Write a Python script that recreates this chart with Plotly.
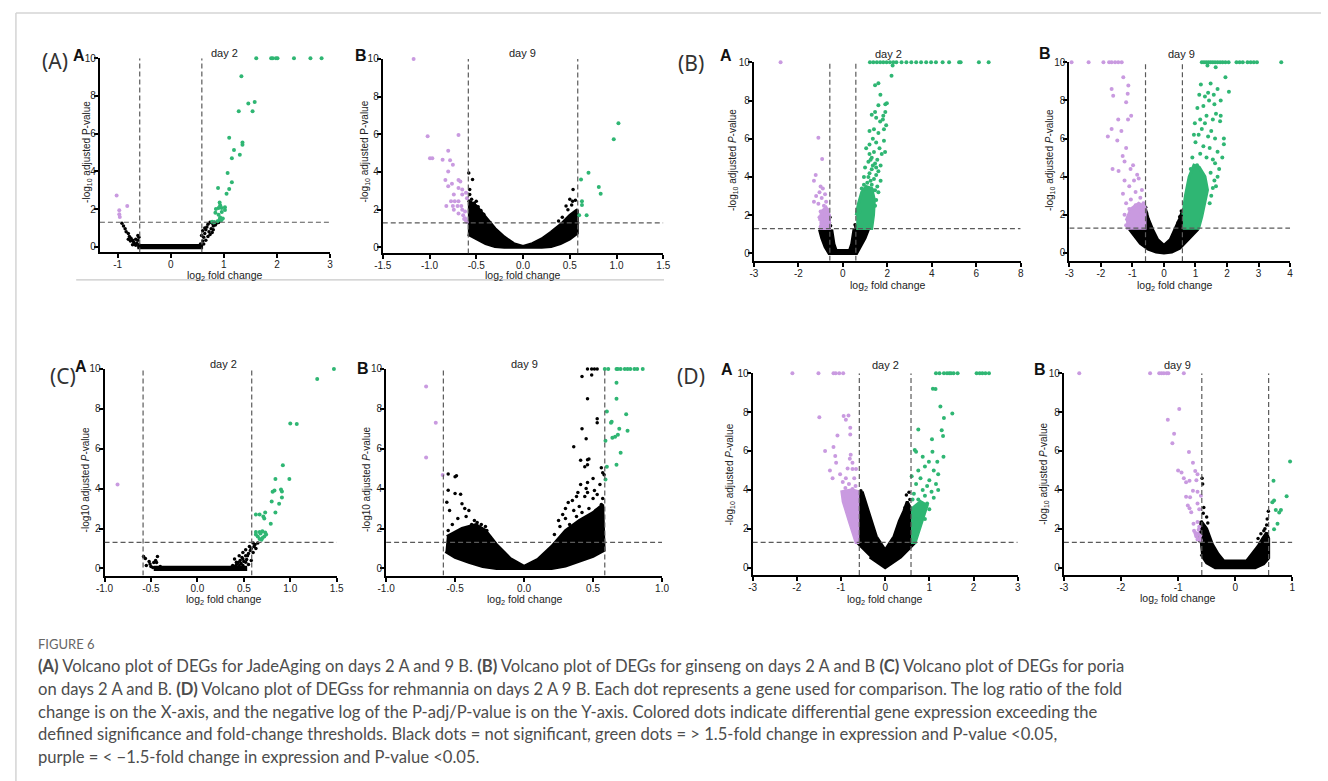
import math
import plotly.graph_objects as go

# ---------------------------------------------------------------- data
# Thresholds used in every volcano plot
FC_CUT = math.log2(1.5)      # |log2 fold change| cut
P_CUT = -math.log10(0.05)    # -log10 adjusted P cut

# ---- (A) JadeAging, day 2
AA_green_x = [1.61, 1.89, 1.92, 1.98, 2.01, 2.32, 2.63, 2.84,
              1.33, 1.58, 1.46, 1.28, 1.54, 1.10, 1.35, 1.35, 1.19, 1.15, 1.30, 1.07, 1.15, 0.89, 1.10, 1.05,
              0.92, 0.93, 0.96, 1.02, 0.90, 0.85, 0.96, 0.84, 1.02, 0.90, 0.93, 0.92, 0.88, 0.82, 0.78, 0.95, 0.98]
AA_green_y = [10, 10, 10, 10, 10, 10, 10, 10,
              9.05, 7.68, 7.6, 7.19, 7.19, 5.79, 5.53, 5.41, 5.14, 4.7, 4.88, 3.91, 3.42, 3.12, 3.07, 2.81,
              2.35, 2.2, 2.05, 2.1, 2.05, 2.0, 1.85, 1.8, 1.95, 1.7, 1.55, 1.45, 1.35, 1.3, 1.32, 1.4, 1.5]
AA_purple_x = [-1.02, -0.97, -0.97, -0.96, -0.82]
AA_purple_y = [2.72, 1.93, 1.72, 1.58, 2.16]
AA_black_x = [-0.92, -0.89, -0.86, -0.84, -0.80, -0.78, -0.75, -0.72, -0.70, -0.68, -0.66, -0.64, -0.62, -0.60,
              -0.62, -0.76, -0.72, -0.60, -0.58, -0.80, -0.66,
              0.53, 0.56, 0.60, 0.62, 0.64, 0.66, 0.68, 0.70, 0.74, 0.78, 0.82, 0.86, 0.90, 0.72, 0.76, 0.80,
              0.84, 0.70, 0.66, 0.62, 0.74, 0.78, 0.58, 0.60, 0.64, 0.80]
AA_black_y = [1.25, 1.1, 0.95, 0.8, 0.7, 0.55, 0.45, 0.35, 0.25, 0.15, 0.08, 0.2, 0.35, 0.5,
              0.6, 0.3, 0.1, 0.1, 0.05, 0.4, 0.4,
              0.05, 0.15, 0.3, 0.5, 0.7, 0.9, 1.05, 1.2, 1.3, 1.25, 1.3, 1.25, 1.28, 0.8, 0.95, 1.1,
              1.15, 0.55, 0.35, 0.15, 0.65, 0.75, 0.6, 0.85, 1.0, 0.9]
AA_floor_x = [-0.63, 0.58, 0.58, -0.63]
AA_floor_y = [-0.06, -0.06, 0.07, 0.07]

# ---- (A) JadeAging, day 9
AB_mass_x = [-0.59, -0.5, -0.4, -0.3, -0.2, -0.1, 0, 0.1, 0.2, 0.3, 0.4, 0.5, 0.58,
             0.58, 0.5, 0.4, 0.3, 0.2, -0.2, -0.3, -0.4, -0.5, -0.59]
AB_mass_y = [2.5, 2.2, 1.6, 1.0, 0.55, 0.2, 0.05, 0.2, 0.45, 0.8, 1.2, 1.7, 2.0,
             0.75, 0.45, 0.2, 0.05, 0.0, 0.0, 0.05, 0.2, 0.45, 0.7]
AB_black_x = [-0.58, -0.54, -0.57, -0.57, -0.55, -0.52, -0.48, -0.45, -0.42, 0.535, 0.5, 0.53, 0.46, 0.55,
              0.48, 0.42, 0.38, 0.52, 0.56, -0.35, -0.5]
AB_black_y = [3.95, 3.6, 3.07, 2.8, 2.55, 2.35, 2.15, 1.95, 1.75, 3.07, 2.55, 2.45, 2.2, 1.76,
              2.0, 1.6, 1.4, 2.25, 2.5, 1.3, 2.45]
AB_purple_x = [-1.17, -1.02, -0.995, -0.97, -0.69, -0.80, -0.86, -0.78, -0.75, -0.80, -0.83, -0.76, -0.69,
               -0.67, -0.80, -0.69, -0.65, -0.74, -0.65, -0.77, -0.73, -0.69, -0.82, -0.75, -0.70, -0.66,
               -0.65, -0.62, -0.69, -0.64, -0.62, -0.61, -0.63, -0.74, -0.6, -0.61, -0.6]
AB_purple_y = [10, 5.89, 4.73, 4.73, 5.96, 5.12, 4.65, 4.62, 4.38, 4.03, 3.58, 3.38, 3.58,
               3.5, 3.24, 3.15, 3.07, 2.8, 2.8, 2.45, 2.45, 2.45, 2.2, 2.2, 2.2, 2.2,
               2.0, 1.9, 1.8, 1.7, 1.55, 1.4, 1.5, 2.0, 2.6, 2.9, 1.35]
AB_green_x = [1.02, 0.97, 0.70, 0.62, 0.81, 0.83, 0.63, 0.63, 0.60, 0.68]
AB_green_y = [6.58, 5.74, 3.96, 3.6, 3.2, 2.85, 2.45, 2.25, 1.7, 1.7]

# ---- (B) ginseng, day 2
BA_mass_x = [-1.05, -0.95, -0.8, -0.62, 0.62, 0.8, 1.0, 1.15, 0.5, 0.4, 0.3, -0.3, -0.4, -0.5]
BA_mass_y = [1.25, 0.8, 0.35, 0.0, 0.0, 0.35, 0.8, 1.25, 1.25, 0.5, 0.15, 0.15, 0.5, 1.25]
BA_black_x = [-0.58, -0.6, -0.55, 0.55, 0.58]
BA_black_y = [1.9, 1.6, 1.45, 1.5, 1.4]
BA_green_mass_x = [0.6, 1.3, 1.38, 1.42, 1.3, 1.05, 0.85, 0.7, 0.6]
BA_green_mass_y = [1.3, 1.3, 2.0, 2.8, 3.4, 3.5, 3.2, 2.6, 2.0]
BA_green_x = [1.22, 1.37, 1.53, 1.68, 1.82, 1.97, 2.12, 2.27, 2.41, 2.64, 2.86, 3.08, 3.3, 3.52, 3.75,
              3.97, 4.19, 4.49, 4.78, 5.23, 5.3, 6.12, 6.56,
              2.24, 2.19, 1.6, 1.45, 1.69, 1.91, 1.98, 1.6, 1.91, 1.45, 1.82, 1.3, 1.8, 1.68, 1.5, 1.95,
              1.4, 1.2, 1.6, 1.35, 1.85, 1.5, 1.2, 1.65, 1.05, 1.4, 1.75, 1.3, 1.55, 1.15, 1.45, 1.7,
              1.0, 1.3, 1.6, 1.2, 1.5, 0.95, 1.4, 1.7, 1.1, 1.3, 1.55, 0.85, 1.45, 1.6, 1.05, 0.75,
              1.5, 1.45, 0.95, 1.25, 1.2, 1.85, 1.9, 1.35, 1.5, 1.15, 1.25, 1.35]
BA_green_y = [10, 10, 10, 10, 10, 10, 10, 10, 10, 10, 10, 10, 10, 10, 10,
              10, 10, 10, 10, 10, 10, 10, 10,
              9.83, 9.3, 8.9, 8.8, 8.3, 7.8, 7.85, 7.75, 7.4, 7.4, 7.2, 7.25, 7.0, 6.9, 7.1, 6.7,
              6.5, 6.4, 6.3, 6.0, 5.9, 5.8, 5.7, 5.5, 5.5, 5.3, 5.2, 5.0, 4.9, 4.8, 4.7, 4.6,
              4.5, 4.4, 4.3, 4.2, 4.1, 4.0, 3.9, 3.8, 3.7, 3.6, 3.5, 3.4, 3.3, 3.2, 3.4, 2.2,
              2.8, 2.5, 3.6, 4.9, 5.2, 6.5, 5.3, 4.6, 4.5, 4.0, 3.8, 3.3]
BA_purple_mass_x = [-1.05, -0.6, -0.6, -0.75, -0.95, -1.05]
BA_purple_mass_y = [1.3, 1.3, 2.0, 2.4, 2.2, 1.7]
BA_purple_x = [-2.8, -1.1, -0.93, -1.22, -1.3, -1.0, -0.9, -1.05, -0.8, -1.2, -0.95, -0.75, -1.1, -0.85,
               -0.7, -1.0, -0.9, -0.65, -1.05, -0.8, -0.7, -0.95, -0.85, -0.65, -0.75, -1.0, -0.9, -0.62,
               -1.3, -0.8, -0.7, -0.95, -0.75]
BA_purple_y = [10, 6.05, 4.94, 4.1, 3.8, 3.5, 3.4, 3.2, 3.1, 3.0, 2.9, 2.7, 2.6, 2.5,
               2.3, 2.2, 2.1, 2.0, 1.9, 1.8, 1.7, 1.6, 1.5, 1.5, 1.4, 1.4, 1.35, 1.35,
               2.7, 2.2, 1.9, 1.8, 1.55]

# ---- (B) ginseng, day 9
BB_mass_x = [-1.1, -0.95, -0.75, -0.5, -0.25, 0, 0.25, 0.5, 0.7, 0.95, 1.08,
             0.585, 0.585, 0.5, 0.35, 0.2, 0.0, -0.2, -0.35, -0.5, -0.585, -0.585]
BB_mass_y = [1.25, 0.9, 0.5, 0.2, 0.05, 0, 0.05, 0.25, 0.6, 1.0, 1.25,
             1.25, 2.2, 1.8, 1.2, 0.7, 0.4, 0.7, 1.2, 1.8, 2.3, 1.25]
BB_black_x = [0.55, 0.5, 0.45, -0.55, -0.5, -0.58]
BB_black_y = [2.2, 1.9, 1.6, 2.1, 1.7, 2.4]
BB_green_mass_x = [0.6, 1.1, 1.2, 1.3, 1.38, 1.3, 1.12, 0.95, 0.8, 0.68, 0.6]
BB_green_mass_y = [1.3, 1.3, 1.9, 2.6, 3.3, 4.0, 4.5, 4.6, 4.0, 3.0, 2.0]
BB_green_x = [1.2, 1.27, 1.34, 1.41, 1.48, 1.55, 1.62, 1.7, 1.78, 1.86, 1.95, 2.05, 2.3, 2.4, 2.5,
              2.65, 2.75, 2.85, 2.95, 3.72,
              1.38, 1.64, 1.95, 1.17, 1.48, 2.06, 1.4, 1.7, 1.58, 1.12, 1.43, 1.8, 1.06, 1.25, 1.65,
              1.8, 1.55, 1.78, 0.98, 1.3, 1.2, 1.5, 1.1, 1.4, 1.62, 1.9, 1.0, 1.25, 1.45, 1.7, 1.15,
              1.35, 1.55, 1.62, 0.9, 1.05, 1.75, 1.48, 1.6, 1.55, 1.5, 1.45, 0.95, 1.35, 1.9, 1.15,
              1.6, 1.3, 1.85, 0.85, 1.7, 1.65]
BB_green_y = [10, 10, 10, 10, 10, 10, 10, 10, 10, 10, 10, 10, 10, 10, 10,
              10, 10, 10, 10, 10,
              9.83, 9.74, 9.22, 8.84, 8.88, 8.45, 8.4, 8.6, 8.3, 8.3, 8.0, 8.0, 7.6, 7.7, 7.3,
              7.2, 7.0, 6.9, 6.8, 6.8, 6.5, 6.4, 6.2, 6.1, 6.0, 5.7, 5.8, 5.6, 5.5, 5.3, 5.2,
              5.0, 4.9, 4.7, 5.0, 4.6, 4.4, 4.2, 3.8, 3.4, 3.0, 2.6, 6.2, 7.2, 6.0, 7.0,
              7.8, 8.2, 5.0, 4.4, 4.0, 3.5]
BB_purple_mass_x = [-1.2, -0.6, -0.6, -0.8, -1.05, -1.2]
BB_purple_mass_y = [1.3, 1.3, 2.4, 2.6, 2.3, 1.7]
BB_purple_x = [-2.93, -2.39, -1.92, -1.74, -1.66, -1.55, -1.45, -1.34,
               -1.29, -1.13, -1.15, -1.66, -1.61, -1.2, -1.04, -1.14, -1.45, -1.66, -1.35, -1.78, -1.48,
               -1.2, -1.31, -1.25, -1.63, -1.44, -0.98, -1.06, -0.85, -0.8, -0.95, -1.25, -1.1, -0.7,
               -0.9, -1.3, -0.75, -1.05, -1.2, -0.65, -0.9, -1.1, -0.7, -1.25, -0.8, -1.15, -0.95,
               -1.2, -0.7]
BB_purple_y = [10, 10, 10, 10, 10, 10, 10, 10,
               9.22, 8.78, 8.35, 8.6, 8.25, 7.9, 7.2, 7.0, 7.0, 6.5, 6.4, 6.1, 5.9,
               5.5, 5.08, 4.8, 4.4, 4.3, 4.6, 4.4, 4.1, 3.9, 3.8, 3.8, 3.5, 3.3,
               3.2, 3.1, 2.9, 2.8, 2.6, 2.6, 2.5, 2.3, 2.3, 2.0, 2.0, 1.7, 1.6,
               1.45, 1.5]

# ---- (C) poria, day 2
CA_green_x = [1.47, 1.29, 1.0, 1.07, 0.92, 0.84, 0.99, 0.90, 0.91, 0.81, 0.83, 0.91, 0.80, 0.88, 0.84,
              0.79, 0.63, 0.67, 0.73, 0.71, 0.72, 0.63, 0.67, 0.70, 0.73, 0.74, 0.72, 0.70, 0.69, 0.67,
              0.63, 0.65, 0.68]
CA_green_y = [10, 9.49, 7.26, 7.24, 5.17, 4.48, 4.48, 3.95, 3.85, 3.84, 3.9, 3.56, 3.35, 3.24, 2.8,
              2.24, 2.7, 2.7, 2.8, 2.6, 2.5, 1.83, 1.83, 1.86, 1.8, 1.7, 1.6, 1.52, 1.44, 1.47,
              1.7, 1.6, 1.75]
CA_purple_x = [-0.86]
CA_purple_y = [4.2]
CA_black_x = [-0.58, -0.56, -0.52, -0.51, -0.47, -0.45, -0.44, -0.43, -0.5, -0.4, -0.55, -0.48,
              0.4, 0.42, 0.45, 0.49, 0.52, 0.54, 0.56, 0.58, 0.6, 0.61, 0.63, 0.65, 0.6, 0.52, 0.49,
              0.46, 0.42, 0.45, 0.49, 0.52, 0.42, 0.47, 0.5, 0.55, 0.57, 0.62, 0.44, 0.38, 0.48, 0.53,
              0.55, 0.58, 0.36, 0.4]
CA_black_y = [0.6, 0.5, 0.35, 0.22, 0.3, 0.4, 0.3, 0.6, 0.1, 0.1, 0.15, 0.05,
              0.47, 0.31, 0.64, 0.8, 0.94, 0.64, 1.1, 1.0, 1.27, 1.1, 1.0, 1.27, 0.8, 0.64, 0.47,
              0.4, 0.2, 0.14, 0.14, 0.31, 0.06, 0.25, 0.35, 0.75, 0.9, 1.2, 0.3, 0.15, 0.55, 0.45,
              0.2, 0.4, 0.05, 0.1]
CA_floor_x = [-0.47, 0.52, 0.52, -0.47]
CA_floor_y = [-0.05, -0.05, 0.06, 0.06]

# ---- (C) poria, day 9
CB_mass_x = [-0.56, -0.45, -0.35, -0.28, -0.2, -0.1, 0, 0.1, 0.2, 0.3, 0.4, 0.5, 0.57,
             0.58, 0.5, 0.4, 0.3, 0.2, -0.2, -0.3, -0.4, -0.5, -0.57]
CB_mass_y = [1.6, 2.0, 2.2, 1.9, 1.2, 0.5, 0.1, 0.45, 1.1, 1.9, 2.4, 2.8, 3.2,
             0.9, 0.6, 0.35, 0.12, 0.0, 0.0, 0.1, 0.3, 0.55, 0.85]
CB_black_x = [-0.55, -0.5, -0.49, -0.55, -0.5, -0.46, -0.56, -0.54, -0.45, -0.43, -0.4, -0.36, -0.34,
              -0.31, -0.28, -0.27, -0.38, -0.42, -0.48, -0.52, -0.55, -0.25,
              0.42, 0.46, 0.49, 0.51, 0.53, 0.49, 0.46, 0.53, 0.53, 0.42, 0.45, 0.36, 0.41, 0.46, 0.47,
              0.46, 0.44, 0.56, 0.57, 0.58, 0.46, 0.45, 0.46, 0.44, 0.39, 0.38, 0.51, 0.5, 0.53, 0.56,
              0.57, 0.35, 0.32, 0.3, 0.28, 0.25, 0.3, 0.36, 0.4, 0.42, 0.47, 0.52, 0.55, 0.48, 0.26,
              0.22, 0.33, 0.38, 0.55, 0.5, 0.41]
CB_black_y = [4.73, 4.6, 4.65, 3.92, 3.75, 3.72, 3.32, 2.9, 3.24, 3.0, 2.9, 2.4, 2.3,
              2.2, 2.1, 1.9, 2.2, 2.6, 2.5, 2.2, 1.9, 1.6,
              9.62, 10, 10, 10, 10, 9.7, 8.5, 7.5, 7.3, 7.0, 6.5, 6.1, 5.42, 5.45, 5.48,
              5.2, 5.1, 5.05, 4.8, 4.7, 4.3, 4.0, 3.8, 3.6, 3.8, 3.6, 3.9, 3.5, 3.7, 3.2,
              3.5, 3.4, 3.3, 3.0, 2.7, 2.4, 2.5, 2.9, 3.1, 2.8, 3.0, 2.9, 3.0, 2.6, 2.1,
              1.7, 2.2, 2.6, 4.2, 4.5, 4.2]
CB_green_x = [0.585, 0.61, 0.67, 0.68, 0.70, 0.73, 0.75, 0.77, 0.80, 0.82, 0.86,
              0.67, 0.67, 0.6, 0.74, 0.63, 0.635, 0.69, 0.75, 0.64, 0.66, 0.68, 0.59, 0.7, 0.6, 0.67, 0.59]
CB_green_y = [10, 10, 10, 10, 10, 10, 10, 10, 10, 10, 10,
              9.3, 8.5, 7.87, 7.73, 7.3, 7.35, 7.0, 6.9, 6.55, 6.6, 6.7, 6.4, 5.8, 5.1, 5.2, 4.45]
CB_purple_x = [-0.71, -0.64, -0.71, -0.59]
CB_purple_y = [9.12, 7.3, 5.56, 4.68]

# ---- (D) rehmannia, day 2
DA_mass_x = [-0.68, -0.585, -0.585, -0.52, -0.45, -0.32, -0.2, 0, 0.2, 0.32, 0.42, 0.5, 0.585,
             0.585, 0.68, 0.35, 0, -0.35]
DA_mass_y = [1.3, 1.3, 3.7, 3.9, 3.4, 2.5, 1.6, 0.9, 1.6, 2.4, 2.9, 3.4, 3.0,
             1.3, 1.3, 0.55, 0, 0.55]
DA_black_x = [-0.55, -0.5, -0.52, -0.47, 0.48, 0.54, 0.5, 0.45, 0.56]
DA_black_y = [3.96, 3.5, 2.7, 2.9, 3.74, 3.88, 3.3, 3.1, 3.5]
DA_purple_mass_x = [-0.585, -0.66, -0.8, -0.95, -0.98, -0.75, -0.585]
DA_purple_mass_y = [1.3, 1.3, 2.3, 3.4, 3.9, 4.0, 3.9]
DA_purple_x = [-2.1, -1.51, -1.17, -1.12, -1.04, -0.95,
               -1.49, -0.94, -0.83, -0.89, -1.08, -0.79, -0.79, -1.36, -1.17, -1.13, -0.78, -0.8,
               -1.11, -0.74, -0.74, -0.66, -1.19, -0.89, -0.96, -0.82, -0.67, -0.74, -1.02, -0.9,
               -0.7, -0.85, -1.25]
DA_purple_y = [10, 10, 10, 10, 10, 10,
               7.74, 7.8, 7.82, 7.6, 6.8, 7.2, 6.85, 6.0, 6.2, 5.74, 5.8, 5.6,
               5.4, 5.4, 5.07, 5.07, 4.6, 4.6, 4.4, 4.3, 4.2, 4.05, 4.8, 4.1,
               4.6, 5.1, 5.0]
DA_green_mass_x = [0.585, 0.68, 0.85, 0.95, 0.8, 0.585]
DA_green_mass_y = [1.3, 1.3, 2.5, 3.2, 3.4, 3.0]
DA_green_x = [1.15, 1.23, 1.33, 1.4, 1.45, 1.49, 1.55, 1.64, 2.07, 2.14, 2.2, 2.27, 2.35,
              1.08, 1.14, 1.25, 1.52, 1.33, 0.75, 1.28, 1.31, 1.06, 0.67, 0.7, 1.07, 0.85, 0.99,
              1.18, 1.32, 0.9, 1.1, 0.75, 1.2, 0.8, 1.0, 0.95, 1.15, 0.7, 0.85, 1.05, 0.65, 0.9,
              1.1, 0.75, 0.95, 1.0, 0.8, 0.85, 0.7, 0.62, 1.2, 0.6, 0.9]
DA_green_y = [10, 10, 10, 10, 10, 10, 10, 10, 10, 10, 10, 10, 10,
              9.2, 9.18, 8.28, 7.93, 7.7, 7.1, 7.06, 6.77, 6.6, 6.05, 5.96, 5.96, 5.7, 5.45,
              5.45, 5.7, 5.2, 5.0, 5.0, 4.8, 4.6, 4.5, 4.2, 4.3, 4.3, 4.0, 3.9, 3.8, 3.7,
              3.6, 3.5, 3.3, 3.0, 3.1, 2.8, 2.5, 3.5, 4.0, 4.7, 2.5]

# ---- (D) rehmannia, day 9
DB_mass_x = [-0.62, -0.6, -0.5, -0.4, -0.3, -0.2, 0.2, 0.3, 0.4, 0.48, 0.55, 0.585,
             0.585, 0.5, 0.35, 0.0, -0.35, -0.5, -0.6]
DB_mass_y = [1.3, 2.4, 2.0, 1.2, 0.7, 0.35, 0.35, 0.7, 1.1, 1.5, 1.8, 1.5,
             0.5, 0.2, 0.0, 0.0, 0.0, 0.25, 0.7]
DB_black_x = [-0.58, -0.57, -0.55, -0.5, -0.56, -0.48, 0.52, 0.5, 0.45, 0.55, 0.4, 0.58, 0.56]
DB_black_y = [4.6, 4.3, 3.1, 2.6, 2.8, 2.3, 2.0, 1.9, 1.75, 2.2, 1.5, 2.9, 2.5]
DB_purple_x = [-2.73, -1.49, -1.33, -1.29, -1.25, -1.2, -1.17, -0.9,
               -0.98, -1.18, -1.07, -1.1, -0.81, -0.74, -1.0, -0.94, -0.7, -0.9, -0.66, -0.86, -0.8,
               -0.68, -0.74, -0.66, -0.86, -0.79, -0.6, -0.83, -0.8, -0.66, -0.63, -0.77, -0.73,
               -0.66, -0.7, -0.65, -0.68, -0.62, -0.6, -0.72, -0.64, -0.69, -0.61, -0.66, -0.63]
DB_purple_y = [10, 10, 10, 10, 10, 10, 10, 10,
               8.16, 7.6, 6.88, 6.4, 5.95, 5.4, 5.0, 4.9, 4.97, 4.6, 4.8, 4.39, 4.47,
               4.5, 3.96, 3.9, 3.65, 3.62, 3.7, 3.2, 3.06, 3.3, 3.0, 2.85, 2.26,
               2.35, 1.8, 1.75, 1.6, 1.5, 1.4, 1.9, 1.95, 1.7, 1.65, 1.45, 2.1]
DB_green_x = [0.96, 0.67, 0.68, 0.65, 0.9, 0.71, 0.8, 0.77, 0.74, 0.68]
DB_green_y = [5.46, 4.47, 3.45, 3.37, 3.67, 2.97, 2.97, 2.84, 2.26, 1.98]

# Y ticks shared by all panels
Y_TICKS = [0, 2, 4, 6, 8, 10]

# ---------------------------------------------------------------- style
W, H = 1328, 781
GREEN = "#2fb673"
PURPLE = "#c99ae0"
AXIS_FONT = "Liberation Sans, Arial, sans-serif"
CAPTION_FONT = "Lato, Open Sans, sans-serif"


def fx(p):
    return p / W


def fy(p):
    return 1 - p / H


# Panel frames in pixels: x-axis span, y pixel of the "10" tick and of the x-axis line
PANELS = [
    dict(x0=92, x1=325, ytop=52.7, ybot=248.3, xr=[-1.335, 3], yr=[-0.3, 10],
         xt=[-1, 0, 1, 2, 3], xl=["-1", "0", "1", "2", "3"]),
    dict(x0=378.3, x1=662.3, ytop=53.3, ybot=249.3, xr=[-1.5, 1.5], yr=[-0.32, 10],
         xt=[-1.5, -1, -0.5, 0, 0.5, 1, 1.5], xl=["-1.5", "-1.0", "-0.5", "0.0", "0.5", "1.0", "1.5"]),
    dict(x0=754, x1=1024, ytop=56.7, ybot=256.7, xr=[-4, 8], yr=[-0.38, 10],
         xt=[-4, -2, 0, 2, 4, 6, 8], xl=["-3", "-2", "0", "2", "4", "6", "8"]),
    dict(x0=1073.3, x1=1296.7, ytop=56.7, ybot=257.3, xr=[-3, 4], yr=[-0.44, 10],
         xt=[-3, -2, -1, 0, 1, 2, 3, 4], xl=["-3", "-2", "-1", "0", "1", "2", "3", "4"]),
    dict(x0=96.7, x1=331.7, ytop=365.7, ybot=574, xr=[-1, 1.5], yr=[-0.36, 10],
         xt=[-1, -0.5, 0, 0.5, 1, 1.5], xl=["-1.0", "-0.5", "0.0", "0.5", "1.0", "1.5"]),
    dict(x0=381.7, x1=661, ytop=365.7, ybot=574, xr=[-1, 1], yr=[-0.36, 10],
         xt=[-1, -0.5, 0, 0.5, 1], xl=["-1.0", "-0.5", "0.0", "0.5", "1.0"]),
    dict(x0=752.7, x1=1021, ytop=370, ybot=573.3, xr=[-3, 3], yr=[-0.37, 10],
         xt=[-3, -2, -1, 0, 1, 2, 3], xl=["-3", "-2", "-1", "0", "1", "2", "3"]),
    dict(x0=1067.7, x1=1299, ytop=370, ybot=573.3, xr=[-3, 1], yr=[-0.37, 10],
         xt=[-3, -2, -1, 0, 1], xl=["-3", "-2", "-1", "0", "1"]),
]

fig = go.Figure()
layout = dict(width=W, height=H, margin=dict(l=0, r=0, t=0, b=0),
              paper_bgcolor="white", plot_bgcolor="rgba(0,0,0,0)", showlegend=False)
shapes = []


def axref(n):
    return ("x" if n == 1 else f"x{n}"), ("y" if n == 1 else f"y{n}")


for i, p in enumerate(PANELS, start=1):
    xa, ya = axref(i)
    key = "" if i == 1 else str(i)
    layout["xaxis" + key] = dict(
        domain=[fx(p["x0"]), fx(p["x1"])], range=p["xr"], anchor=ya,
        showline=True, linecolor="black", linewidth=2, ticks="outside", ticklen=4,
        tickwidth=1.5, tickcolor="black", tickvals=p["xt"], ticktext=p["xl"],
        ticklabelstandoff=-2,
        showgrid=False, zeroline=False, fixedrange=True,
        tickfont=dict(family=AXIS_FONT, size=10, color="#222"))
    layout["yaxis" + key] = dict(
        domain=[fy(p["ybot"]), fy(p["ytop"])], range=p["yr"], anchor=xa,
        showline=True, linecolor="black", linewidth=2, ticks="outside", ticklen=4,
        tickwidth=1.5, tickcolor="black", tickvals=Y_TICKS,
        ticklabelstandoff=-4,
        showgrid=False, zeroline=False, fixedrange=True,
        tickfont=dict(family=AXIS_FONT, size=10, color="#222"))
    # threshold lines
    dash = dict(color="#5a5a5a", width=1.2, dash="5px,3px")
    for xv in (-FC_CUT, FC_CUT):
        shapes.append(dict(type="line", xref=xa, yref=ya, x0=xv, x1=xv, y0=p["yr"][0], y1=10,
                           line=dash, layer="above"))
    shapes.append(dict(type="line", xref=xa, yref=ya, x0=p["xr"][0], x1=p["xr"][1],
                       y0=P_CUT, y1=P_CUT, line=dash, layer="above"))


def mass(n, xs, ys, color):
    xa, ya = axref(n)
    fig.add_trace(go.Scatter(x=xs, y=ys, xaxis=xa, yaxis=ya, mode="lines", fill="toself",
                             fillcolor=color, line=dict(color=color, width=3),
                             hoverinfo="skip", cliponaxis=False))


def dots(n, xs, ys, color, size=4):
    xa, ya = axref(n)
    fig.add_trace(go.Scatter(x=xs, y=ys, xaxis=xa, yaxis=ya, mode="markers",
                             marker=dict(size=size, color=color, line=dict(width=0)),
                             hoverinfo="skip", cliponaxis=False))


# (A) day 2
mass(1, AA_floor_x, AA_floor_y, "black")
dots(1, AA_black_x, AA_black_y, "black", 3.5)
dots(1, AA_green_x, AA_green_y, GREEN)
dots(1, AA_purple_x, AA_purple_y, PURPLE)
# (A) day 9
mass(2, AB_mass_x, AB_mass_y, "black")
dots(2, AB_black_x, AB_black_y, "black", 3.5)
dots(2, AB_purple_x, AB_purple_y, PURPLE)
dots(2, AB_green_x, AB_green_y, GREEN)
# (B) day 2
mass(3, BA_mass_x, BA_mass_y, "black")
dots(3, BA_black_x, BA_black_y, "black", 3.5)
mass(3, BA_green_mass_x, BA_green_mass_y, GREEN)
dots(3, BA_green_x, BA_green_y, GREEN)
mass(3, BA_purple_mass_x, BA_purple_mass_y, PURPLE)
dots(3, BA_purple_x, BA_purple_y, PURPLE)
# (B) day 9
mass(4, BB_mass_x, BB_mass_y, "black")
dots(4, BB_black_x, BB_black_y, "black", 3.5)
mass(4, BB_green_mass_x, BB_green_mass_y, GREEN)
dots(4, BB_green_x, BB_green_y, GREEN)
mass(4, BB_purple_mass_x, BB_purple_mass_y, PURPLE)
dots(4, BB_purple_x, BB_purple_y, PURPLE)
# (C) day 2
mass(5, CA_floor_x, CA_floor_y, "black")
dots(5, CA_black_x, CA_black_y, "black", 3.5)
dots(5, CA_green_x, CA_green_y, GREEN)
dots(5, CA_purple_x, CA_purple_y, PURPLE)
# (C) day 9
mass(6, CB_mass_x, CB_mass_y, "black")
dots(6, CB_black_x, CB_black_y, "black", 3.5)
dots(6, CB_green_x, CB_green_y, GREEN)
dots(6, CB_purple_x, CB_purple_y, PURPLE)
# (D) day 2
mass(7, DA_mass_x, DA_mass_y, "black")
dots(7, DA_black_x, DA_black_y, "black", 3.5)
mass(7, DA_purple_mass_x, DA_purple_mass_y, PURPLE)
dots(7, DA_purple_x, DA_purple_y, PURPLE)
mass(7, DA_green_mass_x, DA_green_mass_y, GREEN)
dots(7, DA_green_x, DA_green_y, GREEN)
# (D) day 9
mass(8, DB_mass_x, DB_mass_y, "black")
dots(8, DB_black_x, DB_black_y, "black", 3.5)
dots(8, DB_purple_x, DB_purple_y, PURPLE)
dots(8, DB_green_x, DB_green_y, GREEN)

# ---------------------------------------------------------------- text
annotations = []


def ann(text, x, y, size, color="#222", family=AXIS_FONT, xanchor="center", angle=0):
    annotations.append(dict(text=text, x=fx(x), y=fy(y), xref="paper", yref="paper",
                            xanchor=xanchor, yanchor="middle", showarrow=False,
                            textangle=angle, borderpad=0,
                            font=dict(family=family, size=size, color=color)))


YT_SUB = "-log<sub>10</sub> adjusted P-value"
YT_SUB_I = "-log<sub>10</sub> adjusted <i>P</i>-value"
YT_PLAIN_I = "-log10 adjusted <i>P</i>-value"
XT = "log<sub>2</sub> fold change"

# day titles, panel letters, axis titles
for txt, x, y in [("day 2", 218, 47), ("day 9", 520, 47), ("day 2", 890, 48), ("day 9", 1187, 48),
                  ("day 2", 217, 361), ("day 9", 522, 361), ("day 2", 887, 362), ("day 9", 1183, 362)]:
    ann(txt, x, y, 11)
for txt, x, y in [("A", 71, 50), ("B", 356, 50), ("A", 726, 50), ("B", 1049, 48),
                  ("A", 73, 363), ("B", 358, 365), ("A", 727, 366), ("B", 1044, 366)]:
    ann("<b>" + txt + "</b>", x, y, 16, color="#111")
for txt, x, y in [(YT_SUB, 79, 147), (YT_SUB, 360, 147), (YT_SUB_I, 733, 155), (YT_SUB_I, 1053, 155),
                  (YT_PLAIN_I, 77, 477), (YT_PLAIN_I, 362, 477), (YT_SUB_I, 730, 472),
                  (YT_SUB_I, 1048, 471)]:
    ann(txt, x, y, 10, angle=-90)
for x, y in [(218, 272), (520, 272), (889, 282), (1180, 282),
             (217, 599), (522, 599), (886, 599), (1183, 598)]:
    ann(XT, x, y, 10.5)

# figure part labels
for txt, x, y in [("(A)", 47, 55), ("(B)", 690, 57), ("(C)", 55, 373), ("(D)", 690, 373)]:
    ann(txt, x, y, 21, color="#333", family="Noto Sans, sans-serif")

# caption
ann("FIGURE 6", 28, 643, 13, color="#666", family=CAPTION_FONT, xanchor="left")
CAPTION = [
    "<b>(A)</b> Volcano plot of DEGs for JadeAging on days 2 A and 9 B. <b>(B)</b> Volcano plot of DEGs "
    "for ginseng on days 2 A and B <b>(C)</b> Volcano plot of DEGs for poria",
    "on days 2 A and B. <b>(D)</b> Volcano plot of DEGss for rehmannia on days 2 A 9 B. Each dot represents "
    "a gene used for comparison. The log ratio of the fold",
    "change is on the X-axis, and the negative log of the P-adj/P-value is on the Y-axis. Colored dots "
    "indicate differential gene expression exceeding the",
    "defined significance and fold-change thresholds. Black dots = not significant, green dots = &gt; "
    "1.5-fold change in expression and P-value &lt;0.05,",
    "purple = &lt; \u22121.5-fold change in expression and P-value &lt;0.05.",
]
for k, line in enumerate(CAPTION):
    ann(line, 28, 665 + 23 * k, 16.6, color="#4d4d4d", family=CAPTION_FONT, xanchor="left")

# page frame and separator line
shapes.append(dict(type="line", xref="paper", yref="paper", x0=fx(7), x1=1, y0=fy(7), y1=fy(7),
                   line=dict(color="#d4d4d4", width=1.5)))
shapes.append(dict(type="line", xref="paper", yref="paper", x0=fx(7), x1=fx(7), y0=fy(7), y1=0,
                   line=dict(color="#d4d4d4", width=1.5)))
shapes.append(dict(type="line", xref="paper", yref="paper", x0=fx(68), x1=fx(663), y0=fy(276),
                   y1=fy(276), line=dict(color="#c8c8c8", width=1.2)))

layout["shapes"] = shapes
layout["annotations"] = annotations
fig.update_layout(**layout)
fig.write_html("out.html")
